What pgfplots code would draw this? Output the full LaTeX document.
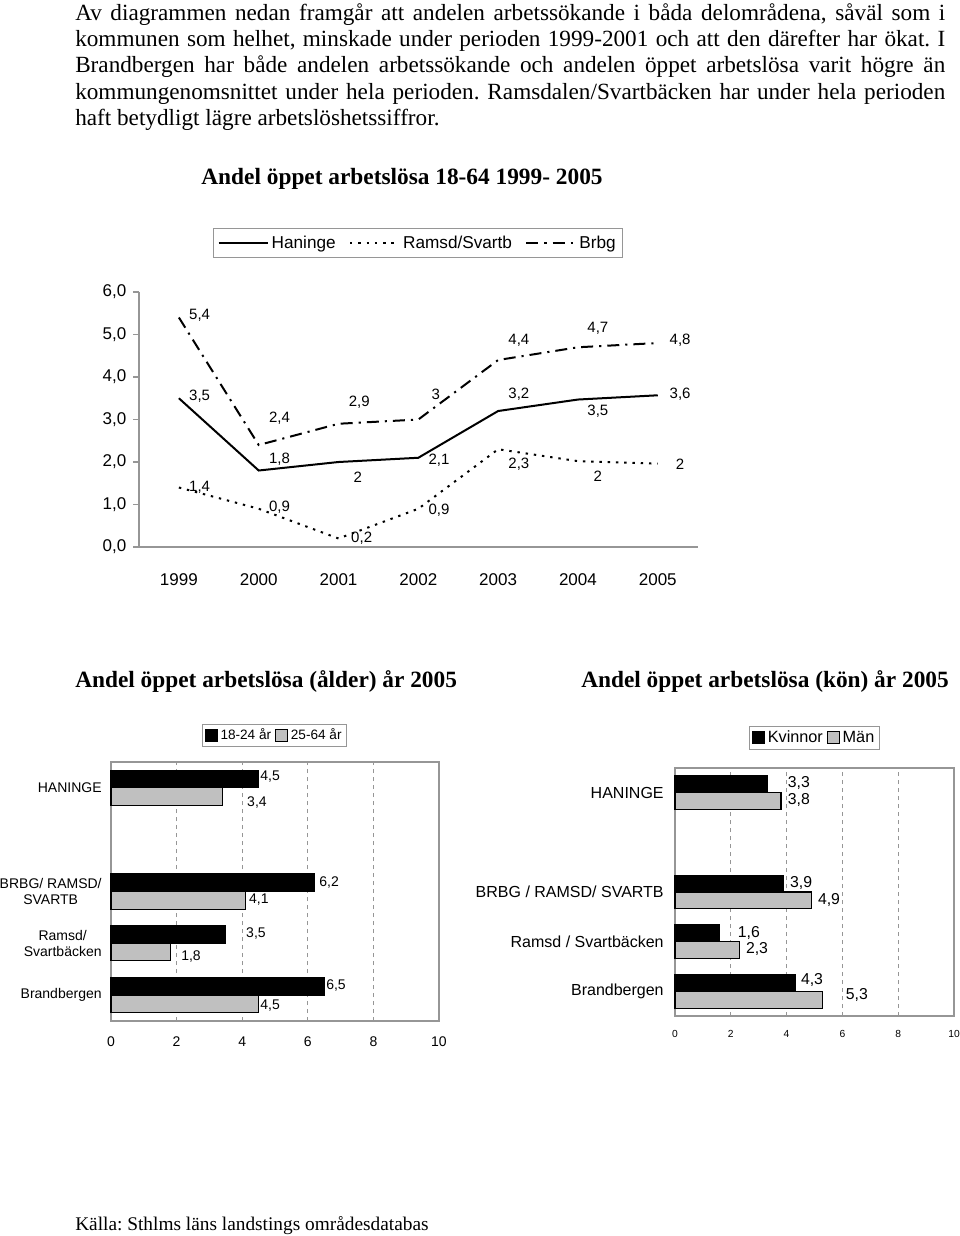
\documentclass[border=0pt]{standalone}
\usepackage{pgfplots}
\pgfplotsset{compat=1.18}
\usepackage{fontspec}
\setmainfont{Liberation Serif}
\newfontfamily\arial{Liberation Sans}
\definecolor{barg}{RGB}{192,192,192}
\definecolor{axg}{RGB}{150,150,150}
\pgfplotsset{
  sqleg/.style={legend image code/.code={\draw[##1,line width=0.8pt] (0pt,-4.5pt) rectangle (9pt,4.5pt);}},
}
\begin{document}
\frenchspacing
\begin{tikzpicture}
\path[use as bounding box] (0,0) rectangle (720pt,-927pt);

\begin{scope}[x=0.75pt,y=-0.75pt]
\node[anchor=base west,inner sep=0pt] at (75,20) {\fontsize{17.4pt}{19.75pt}\selectfont\vtop{\hsize=652.5pt
\hbox to\hsize{Av diagrammen nedan framgår att andelen arbetssökande i båda delområdena, såväl som i}
\hbox to\hsize{kommunen som helhet, minskade under perioden 1999-2001 och att den därefter har ökat. I}
\hbox to\hsize{Brandbergen har både andelen arbetssökande och andelen öppet arbetslösa varit högre än}
\hbox to\hsize{kommungenomsnittet under hela perioden. Ramsdalen/Svartbäcken har under hela perioden}
\hbox{haft betydligt lägre arbetslöshetssiffror.}}};
\node[anchor=base,inner sep=0pt,font=\bfseries\fontsize{17.5pt}{20pt}\selectfont] at (402,184) {Andel öppet arbetslösa 18-64 1999- 2005};
\node[anchor=base west,inner sep=0pt,font=\bfseries\fontsize{17.5pt}{20pt}\selectfont] at (75,687) {Andel öppet arbetslösa (ålder) år 2005};
\node[anchor=base west,inner sep=0pt,font=\bfseries\fontsize{17.5pt}{20pt}\selectfont] at (581,687) {Andel öppet arbetslösa (kön) år 2005};
\node[anchor=base west,inner sep=0pt,font=\fontsize{14.5pt}{17pt}\selectfont] at (75,1230) {Källa: Sthlms läns landstings områdesdatabas};
\end{scope}

% ---------------- line chart ----------------
\begin{axis}[
  at={(104.25pt,-410.25pt)}, anchor=south west,
  scale only axis, width=419pt, height=191.25pt,
  xmin=1998.5, xmax=2005.5, ymin=0, ymax=6,
  axis x line*=bottom, axis y line*=left,
  axis line style={axg, line width=0.8pt, -},
  xtick={1999,2000,2001,2002,2003,2004,2005},
  xticklabels={1999,2000,2001,2002,2003,2004,2005},
  ytick={0,1,2,3,4,5,6},
  yticklabels={{0,0},{1,0},{2,0},{3,0},{4,0},{5,0},{6,0}},
  x tick style={draw=none},
  y tick style={axg, line width=0.8pt},
  tick align=outside, major tick length=4.5pt,
  tick label style={font=\arial\fontsize{12.75pt}{14pt}\selectfont, black},
  xticklabel style={yshift=-12pt},
  yticklabel style={xshift=-1.5pt},
  legend style={at={(0.4995,1.192)}, anchor=center, draw=axg, line width=0.6pt,
    font=\arial\fontsize{12.9pt}{14pt}\selectfont, inner ysep=3.5pt,
    /tikz/every even column/.append style={column sep=8pt}},
  legend columns=3,
  legend image code/.code={\draw[#1] (0pt,0pt) -- (37pt,0pt);},
  clip=false,
]
\addplot[black, line width=1.5pt] coordinates {(1999,3.5)(2000,1.8)(2001,2.0)(2002,2.1)(2003,3.2)(2004,3.47)(2005,3.57)};
\addlegendentry{Haninge}
\addplot[black, line width=1.5pt, dash pattern=on 1.8pt off 4.4pt] coordinates {(1999,1.4)(2000,0.9)(2001,0.2)(2002,0.9)(2003,2.3)(2004,2.02)(2005,1.96)};
\addlegendentry{Ramsd/Svartb}
\addplot[black, line width=1.5pt, dash pattern=on 9pt off 4.5pt on 1.6pt off 4.5pt] coordinates {(1999,5.4)(2000,2.4)(2001,2.9)(2002,3.0)(2003,4.4)(2004,4.7)(2005,4.8)};
\addlegendentry{Brbg}
\begin{scope}[every node/.style={font=\arial\fontsize{11.25pt}{13pt}\selectfont, inner sep=0pt}]
\node at (axis cs:1999.26,5.46) {5,4};
\node at (axis cs:1999.26,3.55) {3,5};
\node at (axis cs:1999.26,1.41) {1,4};
\node at (axis cs:2000.26,3.04) {2,4};
\node at (axis cs:2000.26,2.07) {1,8};
\node at (axis cs:2000.26,0.94) {0,9};
\node at (axis cs:2001.26,3.41) {2,9};
\node at (axis cs:2001.24,1.65) {2};
\node at (axis cs:2001.29,0.21) {0,2};
\node at (axis cs:2002.22,3.60) {3};
\node at (axis cs:2002.26,2.05) {2,1};
\node at (axis cs:2002.26,0.87) {0,9};
\node at (axis cs:2003.26,4.87) {4,4};
\node at (axis cs:2003.26,3.60) {3,2};
\node at (axis cs:2003.26,1.95) {2,3};
\node at (axis cs:2004.25,5.15) {4,7};
\node at (axis cs:2004.25,3.20) {3,5};
\node at (axis cs:2004.25,1.67) {2};
\node at (axis cs:2005.28,4.87) {4,8};
\node at (axis cs:2005.28,3.60) {3,6};
\node at (axis cs:2005.28,1.95) {2};
\end{scope}
\end{axis}

% ---------------- left bar chart ----------------
\begin{axis}[
  at={(83.25pt,-765.75pt)}, anchor=south west,
  scale only axis, width=246pt, height=194.25pt,
  xbar, bar width=0.34,
  xmin=0, xmax=10, ymin=-0.5, ymax=4.5,
  axis line style={axg, line width=0.8pt},
  xtick={0,2,4,6,8,10}, xticklabels={0,2,4,6,8,10},
  ytick={0,1,2,4},
  yticklabels={Brandbergen,{Ramsd/\\Svartbäcken},{BRBG/ RAMSD/\\SVARTB},HANINGE},
  major tick length=0pt,
  xmajorgrids, major grid style={axg, dashed, line width=0.6pt},
  tick label style={font=\arial\fontsize{10.5pt}{12pt}\selectfont, black},
  yticklabel style={align=center, xshift=-3.5pt},
  xticklabel style={yshift=-8pt},
  legend style={at={(0.4985,1.104)}, anchor=center, draw=axg, line width=0.6pt,
    font=\arial\fontsize{10.2pt}{12pt}\selectfont, inner ysep=1.5pt, inner xsep=2pt,
    /tikz/every even column/.append style={column sep=1pt}},
  legend columns=2,
  clip=false,
]
\addplot[fill=black, draw=black, line width=0.8pt, bar shift=0.17, sqleg] coordinates {(4.5,4)(6.2,2)(3.5,1)(6.5,0)};
\addlegendentry{18-24 år}
\addplot[fill=barg, draw=black, line width=0.8pt, bar shift=-0.17, sqleg] coordinates {(3.4,4)(4.1,2)(1.8,1)(4.5,0)};
\addlegendentry{25-64 år}
\begin{scope}[every node/.style={font=\arial\fontsize{10.5pt}{12pt}\selectfont, inner sep=0pt}]
\node at (axis cs:4.85,4.21) {4,5};
\node at (axis cs:4.45,3.71) {3,4};
\node at (axis cs:6.65,2.18) {6,2};
\node at (axis cs:4.51,1.84) {4,1};
\node at (axis cs:4.42,1.18) {3,5};
\node at (axis cs:2.44,0.75) {1,8};
\node at (axis cs:6.86,0.19) {6,5};
\node at (axis cs:4.85,-0.21) {4,5};
\end{scope}
\end{axis}

% ---------------- right bar chart ----------------
\begin{axis}[
  at={(506.25pt,-762pt)}, anchor=south west,
  scale only axis, width=209.25pt, height=186pt,
  xbar, bar width=0.34,
  xmin=0, xmax=10, ymin=-0.5, ymax=4.5,
  axis line style={axg, line width=0.8pt},
  xtick={0,2,4,6,8,10}, xticklabels={0,2,4,6,8,10},
  ytick={0,1,2,4},
  yticklabels={Brandbergen,Ramsd / Svartbäcken,BRBG / RAMSD/ SVARTB,HANINGE},
  major tick length=0pt,
  xmajorgrids, major grid style={axg, dashed, line width=0.6pt},
  xticklabel style={font=\arial\fontsize{7.7pt}{9pt}\selectfont, black, yshift=-7.5pt},
  yticklabel style={font=\arial\fontsize{12pt}{14pt}\selectfont, black, xshift=-5pt},
  legend style={at={(0.5,1.123)}, anchor=center, draw=axg, line width=0.6pt,
    font=\arial\fontsize{12.2pt}{14pt}\selectfont, inner ysep=1.5pt, inner xsep=2pt,
    /tikz/every even column/.append style={column sep=1pt}},
  legend columns=2,
  clip=false,
]
\addplot[fill=black, draw=black, line width=0.8pt, bar shift=0.17, sqleg] coordinates {(3.3,4)(3.9,2)(1.6,1)(4.3,0)};
\addlegendentry{Kvinnor}
\addplot[fill=barg, draw=black, line width=0.8pt, bar shift=-0.17, sqleg] coordinates {(3.8,4)(4.9,2)(2.3,1)(5.3,0)};
\addlegendentry{Män}
\begin{scope}[every node/.style={font=\arial\fontsize{11.85pt}{14pt}\selectfont, inner sep=0pt}]
\node at (axis cs:4.44,4.20) {3,3};
\node at (axis cs:4.44,3.85) {3,8};
\node at (axis cs:4.52,2.18) {3,9};
\node at (axis cs:5.52,1.84) {4,9};
\node at (axis cs:2.65,1.17) {1,6};
\node at (axis cs:2.94,0.85) {2,3};
\node at (axis cs:4.91,0.22) {4,3};
\node at (axis cs:6.52,-0.08) {5,3};
\end{scope}
\end{axis}
\end{tikzpicture}
\end{document}
